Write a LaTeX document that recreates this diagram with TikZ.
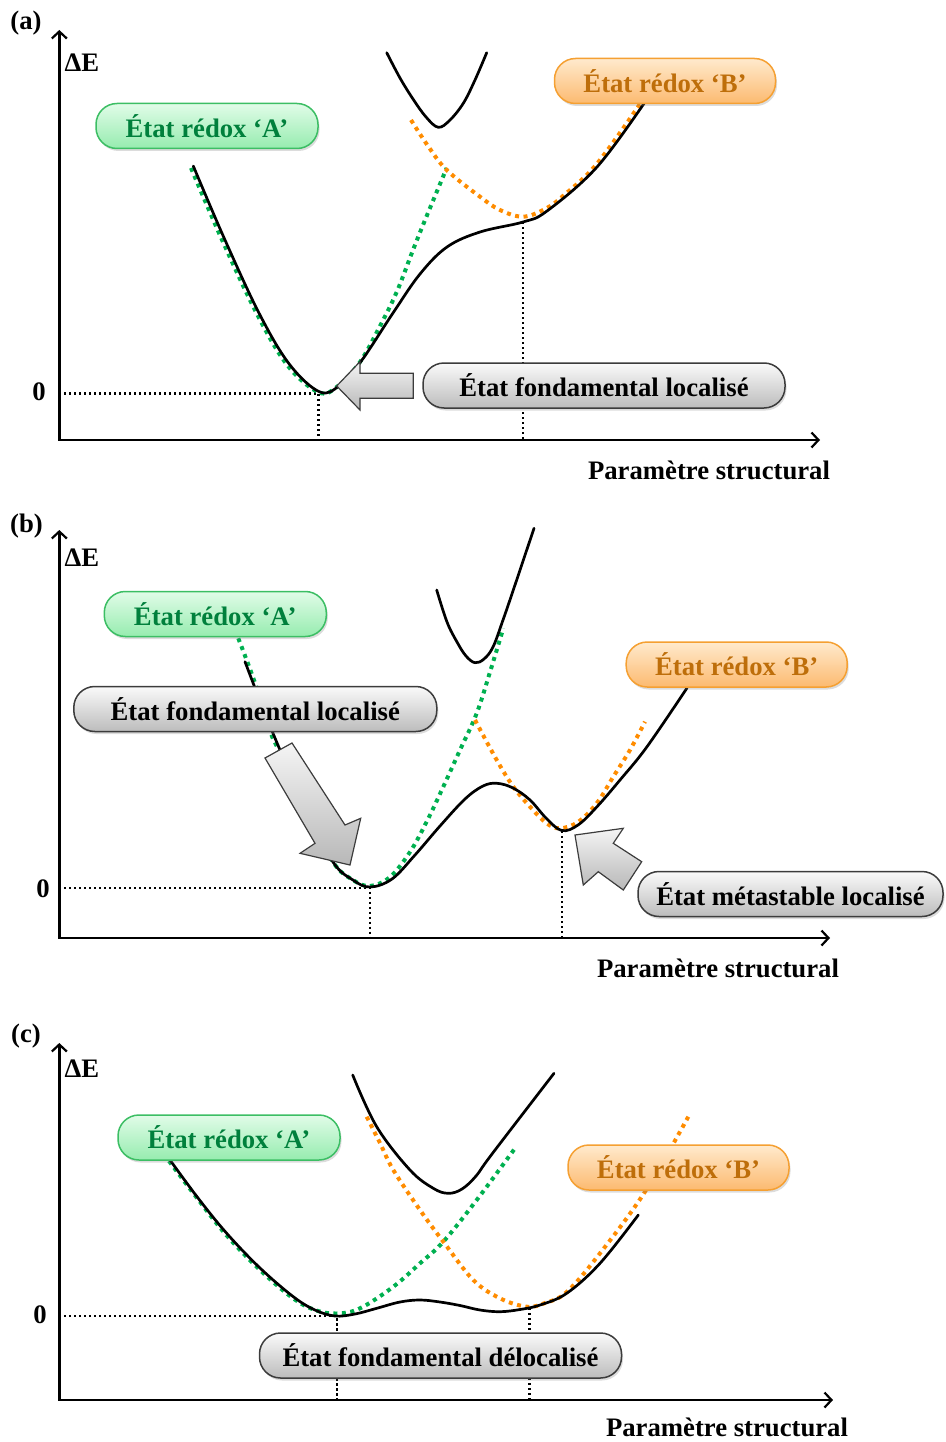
\documentclass[tikz,border=0pt]{standalone}
\usepackage{fontspec}
\setmainfont{Liberation Serif}
\usetikzlibrary{arrows.meta,shadows}
\definecolor{gdot}{RGB}{0,176,80}
\definecolor{odot}{RGB}{255,140,0}
\definecolor{gtext}{RGB}{0,128,60}
\definecolor{gborder}{RGB}{60,190,100}
\definecolor{gtop}{RGB}{225,252,232}
\definecolor{gbot}{RGB}{150,236,175}
\definecolor{otext}{RGB}{190,110,10}
\definecolor{oborder}{RGB}{245,160,50}
\definecolor{otop}{RGB}{255,234,205}
\definecolor{obot}{RGB}{252,186,112}
\definecolor{kborder}{RGB}{60,60,60}
\definecolor{ktop}{RGB}{250,250,250}
\definecolor{kbot}{RGB}{188,188,188}
\begin{document}
\begin{tikzpicture}[x=1pt,y=-1pt,
  every node/.style={font=\fontsize{26.7}{31}\selectfont\bfseries, inner sep=0pt},
  curve/.style={line width=2.7pt, line cap=round, line join=round},
  gcurve/.style={line width=4pt, color=gdot, dash pattern=on 4pt off 4.5pt},
  ocurve/.style={line width=4pt, color=odot, dash pattern=on 4pt off 4.5pt},
  guide/.style={line width=2.4pt, dash pattern=on 2.4pt off 2.6pt},
  axis/.style={line width=2.8pt, -{Straight Barb[length=7pt,width=15pt,line width=2.2pt]}},
  pill/.style={rounded corners=21pt, minimum height=45pt, line width=1.5pt,
    drop shadow={opacity=0.28, shadow xshift=1.5pt, shadow yshift=-2.5pt}},
  labA/.style={pill, draw=gborder, top color=gtop, bottom color=gbot, text=gtext, minimum width=222pt},
  labB/.style={pill, draw=oborder, top color=otop, bottom color=obot, text=otext, minimum width=221pt},
  labK/.style={pill, draw=kborder, top color=ktop, bottom color=kbot, text=black},
  blockarrow/.style={draw=kborder, line width=1.2pt, line join=miter, top color=white!96!black, bottom color=black!28}
]
\useasboundingbox (0,0) rectangle (945,1442);

%%%%%%%%%%%%%%%% (a)
\node (pa) at (26,23) {(a)};
\node (dEa) at (82,63) {ΔE};
\node (za) at (39,392) {0};
\node (xa) at (709,470) {Paramètre structural};

\draw[guide] (59,393.3) -- (318.3,393.3) -- (318.3,440);
\draw[guide] (522.7,222) -- (522.7,440);

\draw[gcurve] plot[smooth,tension=0.6] coordinates {(191,168) (223,242) (258,316) (288,366) (319,392.5) (338,386) (360,362) (379,328) (396.7,292) (413,250) (426.7,216) (446.7,168)};
\draw[ocurve] plot[smooth,tension=0.6] coordinates {(411,120) (428,146) (446.7,170) (480,196.7) (500,210) (523,216.7) (545,209) (563,196) (596.7,164) (640,104)};
\draw[curve] plot[smooth,tension=0.6] coordinates {(193.3,166) (225,240) (260,315) (290,365) (320,392) (340,385) (362,360) (393,313) (420,274) (447,247) (480,232) (523,222) (547,211) (597,167) (645,102)};
\draw[curve] plot[smooth,tension=0.6] coordinates {(386.7,52.7) (400,78) (413,99) (426,117) (438.3,127.3) (450,120) (463.3,103.3) (475,80) (486.7,52.7)};

\draw[axis] (59.3,440) -- (59.3,30);
\draw[axis] (58,440) -- (820,440);

\node[labA] (Aa) at (207,126) {État rédox ‘A’};
\node[labB] (Ba) at (665,81) {État rédox ‘B’};
\node[labK, minimum width=362pt] (Ka) at (604,385.5) {État fondamental localisé};
\draw[blockarrow] (336.7,386) -- (360,361.7) -- (360,373.3) -- (413.3,373.3) -- (413.3,398.3) -- (360,398.3) -- (360,410) -- cycle;

%%%%%%%%%%%%%%%% (b)
\node (pb) at (26.5,526) {(b)};
\node (dEb) at (82,558) {ΔE};
\node (zb) at (43,889) {0};
\node (xb) at (718,968) {Paramètre structural};

\draw[guide] (59,887.7) -- (370,887.7) -- (370,938);
\draw[guide] (561.7,831) -- (561.7,938);

\draw[gcurve] plot[smooth,tension=0.6] coordinates {(238.3,638.3) (255,683) (270,731) (280,753) (305,808) (333,862) (353,880) (370,886) (390,877) (410,852) (427,821) (443.3,786.7) (460,750) (476.7,713.3) (490,672) (503.3,628.3)};
\draw[ocurve] plot[smooth,tension=0.6] coordinates {(475,720) (496.7,760) (513.3,786.7) (530,806.7) (546.7,823.3) (560,828.3) (578,822) (596.7,803.3) (613.3,776.7) (630,750) (645,721.7)};
\draw[curve] plot[smooth,tension=0.6] coordinates {(245,661.7) (262,706) (280,750) (305,808) (333,862) (353,880) (370,887) (392,879) (415,855) (440,826) (465,799) (483,786) (497,783.3) (513,788) (530,800) (546,818) (561.7,830.5) (578,825) (597,806.7) (620,780) (647,746.7) (687,688)};
\draw[curve] plot[smooth,tension=0.6] coordinates {(436.7,590) (447,622) (457,642) (466,656) (475,662.7) (484,659) (493,647) (503,620) (513.3,590) (534,528.3)};

\draw[axis] (59.3,938) -- (59.3,530);
\draw[axis] (58,938) -- (830,938);

\node[labA] (Ab) at (215.3,614) {État rédox ‘A’};
\node[labK, minimum width=363pt] (Kb) at (255.3,709) {État fondamental localisé};
\node[labB] (Bb) at (736.7,664.5) {État rédox ‘B’};
\node[labK, minimum width=305pt] (Mb) at (790.5,894) {État métastable localisé};
\draw[blockarrow] (265,758) -- (292,743) -- (345,825) -- (360.7,818.3) -- (350,865) -- (300,853.3) -- (315,843.3) -- cycle;
\draw[blockarrow] (575,835) -- (623.3,828.3) -- (613.3,843.3) -- (641.7,861.7) -- (623.3,890) -- (598.3,871.7) -- (583.3,885) -- cycle;

%%%%%%%%%%%%%%%% (c)
\node (pc) at (26,1036) {(c)};
\node (dEc) at (82,1069) {ΔE};
\node (zc) at (40,1315) {0};
\node (xc) at (727,1427) {Paramètre structural};

\draw[guide] (59,1316) -- (336.7,1316) -- (336.7,1400);
\draw[guide] (529.3,1308) -- (529.3,1400);

\draw[gcurve] plot[smooth,tension=0.6] coordinates {(169,1161) (197,1198) (225.7,1234.3) (259,1269) (292.3,1297.7) (315,1310) (336.7,1313.5) (360,1308.3) (393.3,1286.7) (420,1263.3) (443.3,1241.7) (476.7,1200) (515,1148.3)};
\draw[ocurve] plot[smooth,tension=0.6] coordinates {(366.7,1116.7) (380,1143) (393.3,1170) (420,1210) (443.3,1241.7) (473.3,1280) (500,1298.3) (526.7,1306.7) (545,1303) (566.7,1292) (600,1253.3) (645,1191.7) (688.3,1116.7)};
\draw[curve] plot[smooth,tension=0.6] coordinates {(170,1160) (198,1198) (226.7,1233.3) (260,1268) (293.3,1296.7) (315,1310) (335,1316) (355,1314) (376.7,1308.3) (400,1302) (420,1300) (440,1302) (460,1305.5) (480,1310) (500,1311.7) (520,1309.5) (540,1305) (566.7,1293.3) (600,1263.3) (638.3,1215)};
\draw[curve] plot[smooth,tension=0.6] coordinates {(352.7,1075) (376.7,1126.7) (410,1170) (433.3,1188.3) (448.3,1193.3) (462,1189) (476,1176) (492,1154) (554,1073.3)};

\draw[axis] (59.3,1400) -- (59.3,1043);
\draw[axis] (58,1400) -- (833,1400);

\node[labA] (Ac) at (229,1137.5) {État rédox ‘A’};
\node[labB] (Bc) at (678.5,1167.5) {État rédox ‘B’};
\node[labK, minimum width=362pt] (Kc) at (440.5,1355.5) {État fondamental délocalisé};
\end{tikzpicture}
\end{document}
